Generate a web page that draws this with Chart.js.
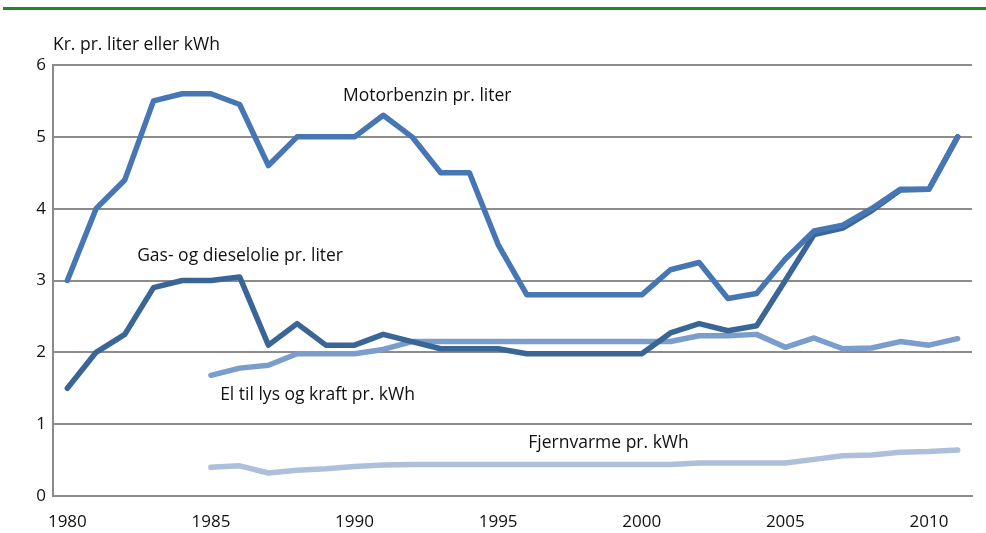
<!DOCTYPE html>
<html>
<head>
<meta charset="utf-8">
<script src="https://cdn.jsdelivr.net/npm/chart.js@4.4.1/dist/chart.umd.min.js"></script>
<style>
  body { margin: 0; background: #fff; }
  #wrap { position: relative; width: 986px; height: 533px; }
  #topline { position: absolute; left: 3px; right: 0; top: 7px; height: 3px; background: #1b8a24; }
</style>
</head>
<body>
<div id="wrap">
  <div id="topline"></div>
  <canvas id="chart"></canvas>
</div>
<script>
const years = [];
for (let y = 1980; y <= 2011; y++) years.push(String(y));

const tickYears = ["1980", "1985", "1990", "1995", "2000", "2005", "2010"];

// Kr. pr. liter / kWh
const motorbenzin = [3.0, 4.0, 4.4, 5.5, 5.6, 5.6, 5.45, 4.6, 5.0, 5.0, 5.0, 5.3, 5.0, 4.5, 4.5, 3.5,
  2.8, 2.8, 2.8, 2.8, 2.8, 3.15, 3.25, 2.75, 2.82, 3.3, 3.69, 3.77, 4.0, 4.27, 4.27, 5.0];
const gasDiesel = [1.5, 2.0, 2.25, 2.9, 3.0, 3.0, 3.05, 2.1, 2.4, 2.1, 2.1, 2.25, 2.15, 2.05, 2.05, 2.05,
  1.98, 1.98, 1.98, 1.98, 1.98, 2.27, 2.4, 2.3, 2.37, 3.0, 3.64, 3.73, 3.97, 4.26, 4.27, 5.0];
const elLysKraft = [null, null, null, null, null, 1.68, 1.78, 1.82, 1.98, 1.98, 1.98, 2.04, 2.15, 2.15, 2.15, 2.15,
  2.15, 2.15, 2.15, 2.15, 2.15, 2.15, 2.23, 2.23, 2.25, 2.07, 2.2, 2.05, 2.06, 2.15, 2.1, 2.19];
const fjernvarme = [null, null, null, null, null, 0.4, 0.42, 0.32, 0.36, 0.38, 0.41, 0.43, 0.44, 0.44, 0.44, 0.44,
  0.44, 0.44, 0.44, 0.44, 0.44, 0.44, 0.46, 0.46, 0.46, 0.46, 0.51, 0.56, 0.57, 0.61, 0.62, 0.64];

// series labels placed in data units: [text, category index, value]
const seriesLabels = [
  ["Motorbenzin pr. liter", 9.6, 5.57],
  ["Gas- og dieselolie pr. liter", 2.43, 3.34],
  ["El til lys og kraft pr. kWh", 5.32, 1.41],
  ["Fjernvarme pr. kWh", 16.05, 0.74],
];
const unitLabel = "Kr. pr. liter eller kWh";

const FONT = "'Open Sans', 'Noto Sans', sans-serif";

const labelPlugin = {
  id: "labels",
  afterDraw(chart) {
    const ctx = chart.ctx;
    const xs = chart.scales.x;
    const ys = chart.scales.y;
    ctx.save();
    ctx.fillStyle = "#111";
    ctx.font = "17.5px " + FONT;
    ctx.textBaseline = "middle";
    ctx.textAlign = "left";
    seriesLabels.forEach(([text, idx, val]) => {
      ctx.fillText(text, xs.getPixelForValue(idx), ys.getPixelForValue(val));
    });
    ctx.fillText(unitLabel, chart.chartArea.left, chart.chartArea.top - 20);
    ctx.restore();
  }
};

function line(label, data, color) {
  return {
    label,
    data,
    borderColor: color,
    backgroundColor: color,
    borderWidth: 5.5,
    pointRadius: 0,
    tension: 0,
    borderJoinStyle: "round",
    borderCapStyle: "round",
    spanGaps: false,
  };
}

new Chart(document.getElementById("chart"), {
  type: "line",
  data: {
    labels: years,
    datasets: [
      line("Motorbenzin pr. liter", motorbenzin, "#4677b4"),
      line("Gas- og dieselolie pr. liter", gasDiesel, "#3a6597"),
      line("El til lys og kraft pr. kWh", elLysKraft, "#7b9dcc"),
      line("Fjernvarme pr. kWh", fjernvarme, "#aebfdb"),
    ],
  },
  options: {
    responsive: true,
    maintainAspectRatio: false,
    animation: false,
    layout: { padding: { top: 65, right: 14, left: 0, bottom: 0 } },
    plugins: { legend: { display: false }, tooltip: { enabled: false } },
    scales: {
      x: {
        offset: true,
        grid: { display: false, drawTicks: false },
        border: { display: true, color: "#8c8c8c", width: 2 },
        ticks: {
          autoSkip: false,
          maxRotation: 0,
          padding: 16,
          color: "#111",
          font: { family: FONT, size: 17 },
          callback(value) {
            const lab = this.getLabelForValue(value);
            return tickYears.includes(lab) ? lab : "";
          },
        },
        afterFit(scale) { scale.height = 37; },
      },
      y: {
        min: 0,
        max: 6,
        ticks: {
          stepSize: 1,
          padding: 7,
          color: "#111",
          font: { family: FONT, size: 17 },
        },
        grid: { color: "#8c8c8c", lineWidth: 2, drawTicks: false },
        border: { display: true, color: "#8c8c8c", width: 2 },
        afterFit(scale) { scale.width = 53; },
      },
    },
  },
  plugins: [labelPlugin],
});
</script>
</body>
</html>
